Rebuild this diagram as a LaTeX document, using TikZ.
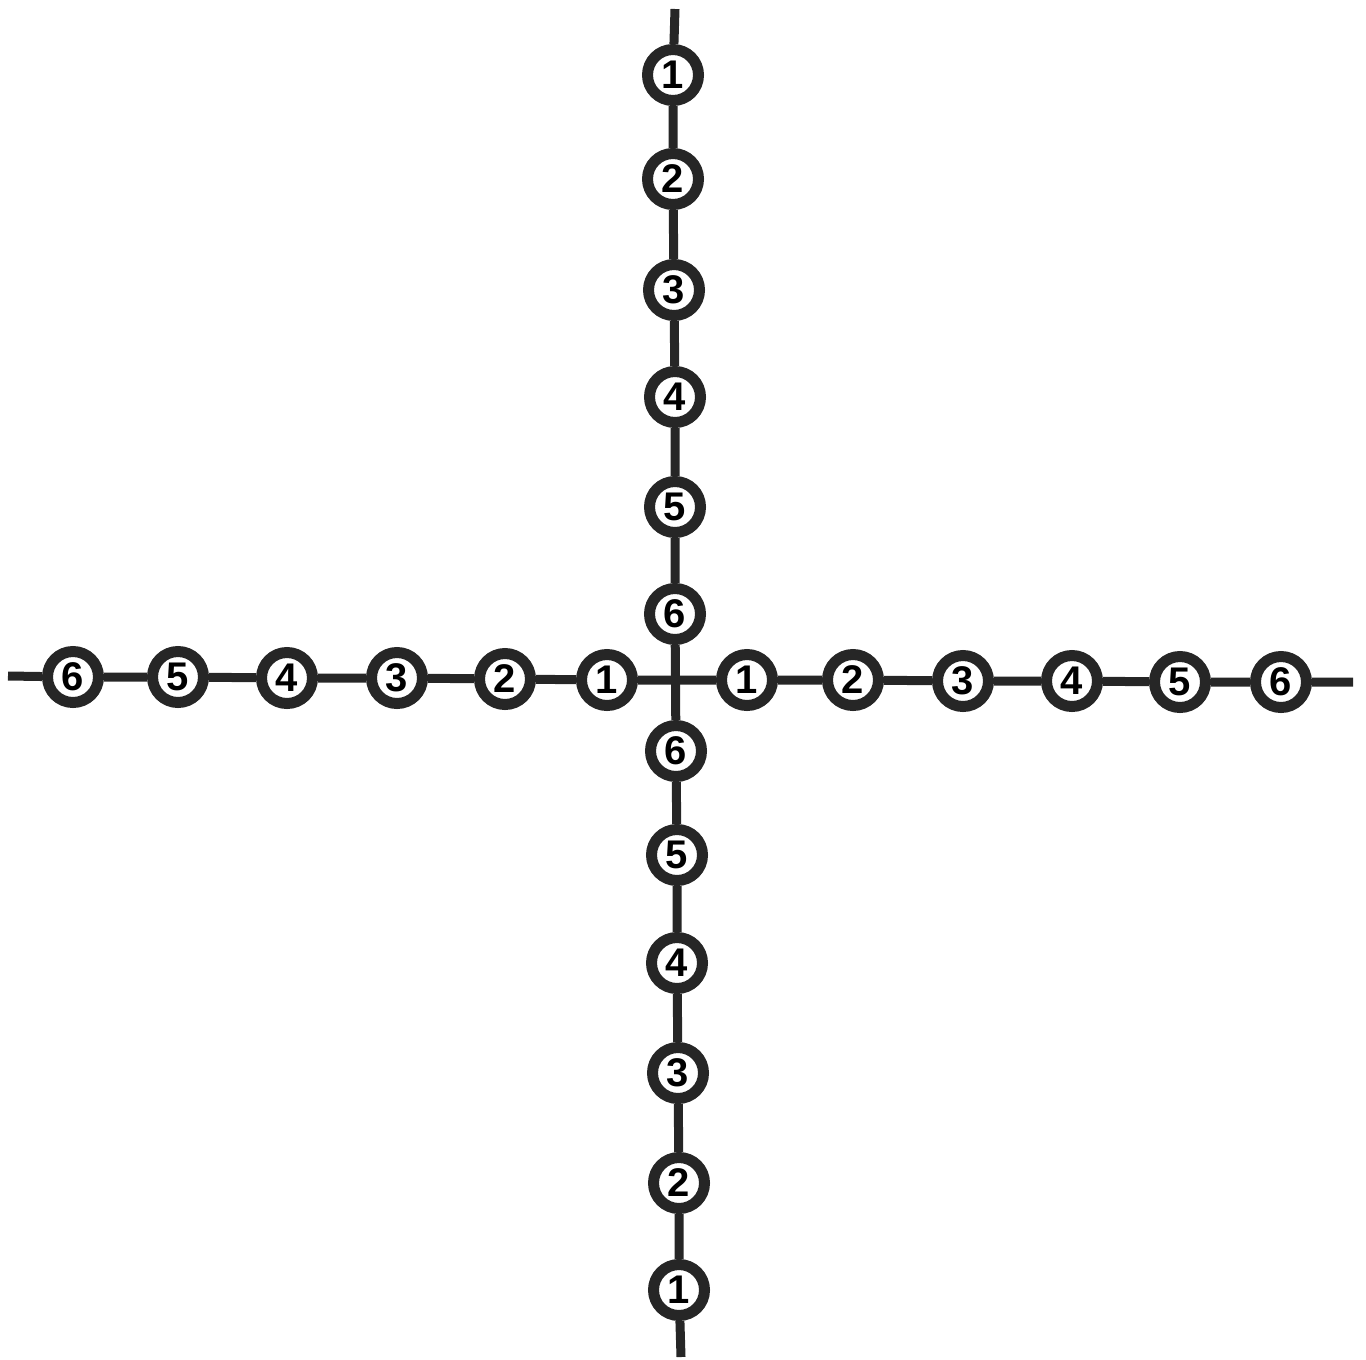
\documentclass[tikz,border=0pt]{standalone}
\usepackage{fontspec}
\setmainfont{Liberation Sans}
\begin{document}
\begin{tikzpicture}[x=1pt,y=-1pt,
  bead/.style={circle,draw=black!85,line width=11pt,fill=white,minimum size=51pt,inner sep=0pt,
    font=\fontsize{40}{40}\selectfont\bfseries},
  wire/.style={line width=9pt,black!85}]
\useasboundingbox (0,0) rectangle (1366,1360);
% vertical axis
\coordinate (vt) at (675,9);
\coordinate (vb) at (681,1357);
\node[bead] (t1) at (673,75) {1};
\node[bead] (t2) at (673,179) {2};
\node[bead] (t3) at (674,290) {3};
\node[bead] (t4) at (675,397) {4};
\node[bead] (t5) at (675,507) {5};
\node[bead] (t6) at (675,614) {6};
\node[bead] (b6) at (676,751) {6};
\node[bead] (b5) at (677,855) {5};
\node[bead] (b4) at (677,963) {4};
\node[bead] (b3) at (678,1073) {3};
\node[bead] (b2) at (679,1183) {2};
\node[bead] (b1) at (679,1290) {1};
% horizontal axis
\coordinate (hl) at (8,676);
\coordinate (hr) at (1353,682);
\node[bead] (l6) at (73,677) {6};
\node[bead] (l5) at (178,677) {5};
\node[bead] (l4) at (287,678) {4};
\node[bead] (l3) at (397,678) {3};
\node[bead] (l2) at (505,679) {2};
\node[bead] (l1) at (607,680) {1};
\node[bead] (r1) at (747,680) {1};
\node[bead] (r2) at (853,680) {2};
\node[bead] (r3) at (963,681) {3};
\node[bead] (r4) at (1072,681) {4};
\node[bead] (r5) at (1180,682) {5};
\node[bead] (r6) at (1281,682) {6};
\begin{scope}[on background layer/.try]
\end{scope}
\draw[wire] (vt) -- (t1) (t1) -- (t2) (t2) -- (t3) (t3) -- (t4) (t4) -- (t5) (t5) -- (t6)
  (t6) -- (b6) (b6) -- (b5) (b5) -- (b4) (b4) -- (b3) (b3) -- (b2) (b2) -- (b1) (b1) -- (vb);
\draw[wire] (hl) -- (l6) (l6) -- (l5) (l5) -- (l4) (l4) -- (l3) (l3) -- (l2) (l2) -- (l1)
  (l1) -- (r1) (r1) -- (r2) (r2) -- (r3) (r3) -- (r4) (r4) -- (r5) (r5) -- (r6) (r6) -- (hr);
\end{tikzpicture}
\end{document}
